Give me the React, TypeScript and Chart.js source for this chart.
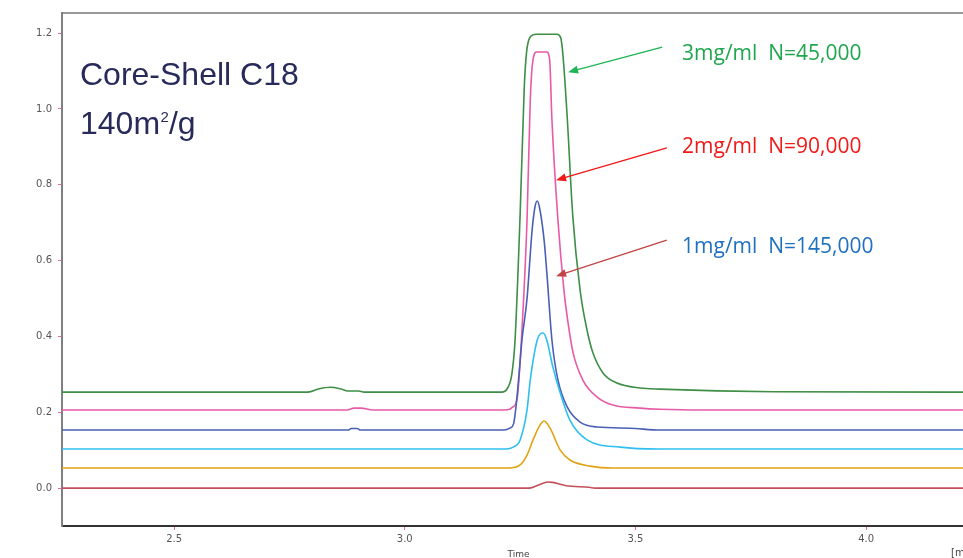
import React, { useEffect, useRef } from "react";
import { Chart, registerables } from "chart.js";

Chart.register(...registerables);

// ---- Data (time in min, signal) ----
const greenX = [2.257, 2.79, 2.815, 2.838, 2.86, 2.877, 2.9, 2.912, 3.21, 3.222, 3.232, 3.239, 3.25, 3.259, 3.264, 3.272, 3.285, 3.33, 3.338, 3.343, 3.352, 3.364, 3.38, 3.395, 3.408, 3.43, 3.46, 3.51, 3.553, 3.8, 4.21];
const greenY = [0.253, 0.253, 0.262, 0.266, 0.262, 0.256, 0.256, 0.253, 0.253, 0.262, 0.3, 0.39, 0.72, 1.057, 1.15, 1.19, 1.197, 1.197, 1.188, 1.14, 0.98, 0.72, 0.522, 0.417, 0.356, 0.303, 0.277, 0.264, 0.261, 0.254, 0.253];

const pinkX = [2.257, 2.875, 2.89, 2.905, 2.931, 3.215, 3.228, 3.233, 3.243, 3.254, 3.265, 3.272, 3.278, 3.286, 3.308, 3.314, 3.319, 3.332, 3.345, 3.354, 3.365, 3.386, 3.417, 3.451, 3.51, 3.553, 3.65, 4.21];
const pinkY = [0.206, 0.206, 0.211, 0.211, 0.206, 0.206, 0.208, 0.213, 0.232, 0.417, 0.707, 1.023, 1.13, 1.15, 1.15, 1.13, 0.97, 0.707, 0.522, 0.435, 0.356, 0.285, 0.24, 0.219, 0.211, 0.208, 0.206, 0.206];

const blueX = [2.257, 2.877, 2.884, 2.897, 2.904, 3.215, 3.228, 3.236, 3.244, 3.254, 3.265, 3.276, 3.282, 3.287, 3.292, 3.302, 3.308, 3.319, 3.332, 3.352, 3.38, 3.417, 3.488, 3.553, 4.21];
const blueY = [0.153, 0.153, 0.157, 0.157, 0.153, 0.153, 0.158, 0.17, 0.25, 0.39, 0.5, 0.68, 0.74, 0.757, 0.74, 0.654, 0.567, 0.39, 0.285, 0.214, 0.174, 0.161, 0.158, 0.153, 0.153];

const cyanX = [2.257, 3.22, 3.235, 3.25, 3.265, 3.272, 3.287, 3.3, 3.308, 3.321, 3.337, 3.358, 3.395, 3.467, 3.55, 4.21];
const cyanY = [0.103, 0.103, 0.108, 0.127, 0.206, 0.285, 0.39, 0.409, 0.39, 0.319, 0.251, 0.179, 0.127, 0.108, 0.103, 0.103];

const orangeX = [2.257, 3.225, 3.25, 3.265, 3.278, 3.293, 3.302, 3.315, 3.337, 3.358, 3.402, 3.451, 4.21];
const orangeY = [0.053, 0.053, 0.061, 0.087, 0.127, 0.166, 0.177, 0.158, 0.1, 0.074, 0.058, 0.053, 0.053];

const redX = [2.257, 3.27, 3.29, 3.31, 3.32, 3.35, 3.4, 3.412, 4.21];
const redY = [0.0, 0.0, 0.008, 0.016, 0.015, 0.006, 0.002, 0.0, 0.0];

const yTicks = [0.0, 0.2, 0.4, 0.6, 0.8, 1.0, 1.2];
const xTicks = [2.5, 3.0, 3.5, 4.0];

const titleLines = ["Core-Shell C18", "140m"];
const notes = [
  { text: "3mg/ml  N=45,000", color: "#1fa64e", arrow: "#1fb454", x: 3.601, y: 1.145, ax0: 3.558, ay0: 1.163, ax1: 3.354, ay1: 1.097 },
  { text: "2mg/ml  N=90,000", color: "#f01818", arrow: "#f01818", x: 3.601, y: 0.9, ax0: 3.568, ay0: 0.897, ax1: 3.328, ay1: 0.812 },
  { text: "1mg/ml  N=145,000", color: "#1f70be", arrow: "#c04444", x: 3.601, y: 0.636, ax0: 3.568, ay0: 0.654, ax1: 3.328, ay1: 0.559 },
];

const pts = (xs: number[], ys: number[]) => xs.map((x, i) => ({ x, y: ys[i] }));

const series = [
  { xs: redX, ys: redY, color: "#c4505c" },
  { xs: orangeX, ys: orangeY, color: "#e2a215" },
  { xs: cyanX, ys: cyanY, color: "#2fbfee" },
  { xs: blueX, ys: blueY, color: "#4a60b4" },
  { xs: pinkX, ys: pinkY, color: "#e95aa6" },
  { xs: greenX, ys: greenY, color: "#3e8e45" },
];

const overlay = {
  id: "overlay",
  afterDraw(chart: any) {
    const { ctx, chartArea, scales } = chart;
    const xs = scales.x;
    const ys = scales.y;
    ctx.save();
    // top border
    ctx.strokeStyle = "#777";
    ctx.lineWidth = 1.5;
    ctx.beginPath();
    ctx.moveTo(chartArea.left, chartArea.top);
    ctx.lineTo(chartArea.right, chartArea.top);
    ctx.stroke();

    // title text
    ctx.fillStyle = "#282b5a";
    const big = '32px "Liberation Sans", Arial, sans-serif';
    ctx.font = big;
    ctx.textBaseline = "alphabetic";
    ctx.textAlign = "left";
    const tx = xs.getPixelForValue(2.296);
    ctx.fillText(titleLines[0], tx, ys.getPixelForValue(1.064));
    const y2 = ys.getPixelForValue(0.935);
    ctx.fillText(titleLines[1], tx, y2);
    const w1 = ctx.measureText(titleLines[1]).width;
    ctx.font = '15px "Liberation Sans", Arial, sans-serif';
    ctx.fillText("2", tx + w1 + 0.5, y2 - 12);
    const w2 = ctx.measureText("2").width;
    ctx.font = big;
    ctx.fillText("/g", tx + w1 + w2 + 0.5, y2);

    // notes with arrows
    for (const n of notes) {
      const x0 = xs.getPixelForValue(n.ax0), y0 = ys.getPixelForValue(n.ay0);
      const x1 = xs.getPixelForValue(n.ax1), y1 = ys.getPixelForValue(n.ay1);
      const ang = Math.atan2(y1 - y0, x1 - x0);
      ctx.strokeStyle = n.arrow;
      ctx.fillStyle = n.arrow;
      ctx.lineWidth = 1.3;
      ctx.beginPath();
      ctx.moveTo(x0, y0);
      ctx.lineTo(x1 - 8 * Math.cos(ang), y1 - 8 * Math.sin(ang));
      ctx.stroke();
      ctx.beginPath();
      ctx.moveTo(x1, y1);
      ctx.lineTo(x1 - 10 * Math.cos(ang) + 4 * Math.sin(ang), y1 - 10 * Math.sin(ang) - 4 * Math.cos(ang));
      ctx.lineTo(x1 - 10 * Math.cos(ang) - 4 * Math.sin(ang), y1 - 10 * Math.sin(ang) + 4 * Math.cos(ang));
      ctx.closePath();
      ctx.fill();
      ctx.fillStyle = n.color;
      ctx.font = '21px "Open Sans", "Liberation Sans", sans-serif';
      ctx.textBaseline = "middle";
      ctx.fillText(n.text, xs.getPixelForValue(n.x), ys.getPixelForValue(n.y));
    }

    // axis title and unit
    ctx.fillStyle = "#444";
    ctx.font = '9px "DejaVu Sans", sans-serif';
    ctx.textAlign = "center";
    ctx.textBaseline = "alphabetic";
    ctx.fillText("Time", (chartArea.left + chartArea.right) / 2 + 6, chartArea.bottom + 31);
    ctx.textAlign = "left";
    ctx.font = '10px "DejaVu Sans", sans-serif';
    ctx.fillText("[min]", chartArea.right - 12, chartArea.bottom + 30);
    ctx.restore();
  },
};

export default function App() {
  const ref = useRef<HTMLCanvasElement>(null);
  useEffect(() => {
    if (!ref.current) return;
    const chart = new Chart(ref.current, {
      type: "line",
      data: {
        datasets: series.map((s) => ({
          data: pts(s.xs, s.ys),
          borderColor: s.color,
          borderWidth: 1.6,
          pointRadius: 0,
          cubicInterpolationMode: "monotone" as const,
          fill: false,
        })),
      },
      options: {
        animation: false,
        responsive: false,
        maintainAspectRatio: false,
        layout: { padding: { top: 13, right: 0, left: 0, bottom: 0 } },
        plugins: { legend: { display: false }, tooltip: { enabled: false } },
        scales: {
          x: {
            type: "linear",
            min: 2.257,
            max: 4.21,
            afterBuildTicks: (s: any) => { s.ticks = xTicks.map((v) => ({ value: v })); },
            afterFit: (s: any) => { s.height = 32; },
            grid: { drawOnChartArea: false, drawTicks: true, tickLength: 4, color: "#e868ac" },
            border: { display: true, color: "#333", width: 2 },
            ticks: {
              color: "#555",
              font: { family: "DejaVu Sans", size: 10 },
              padding: 3,
              maxRotation: 0,
              callback: (v: any) => Number(v).toFixed(1),
            },
          },
          y: {
            type: "linear",
            min: -0.1,
            max: 1.253,
            afterBuildTicks: (s: any) => { s.ticks = yTicks.map((v) => ({ value: v })); },
            afterFit: (s: any) => { s.width = 62; },
            grid: { drawOnChartArea: false, drawTicks: true, tickLength: 4, color: "#e868ac" },
            border: { display: true, color: "#808080", width: 2 },
            ticks: {
              color: "#555",
              font: { family: "DejaVu Sans", size: 10 },
              padding: 6,
              callback: (v: any) => Number(v).toFixed(1),
            },
          },
        },
      },
      plugins: [overlay],
    });
    return () => chart.destroy();
  }, []);
  return (
    <div style={{ position: "fixed", left: 0, top: 0, width: 963, height: 558, background: "#fff" }}>
      <canvas ref={ref} width={963} height={558} style={{ display: "block" }} />
    </div>
  );
}
